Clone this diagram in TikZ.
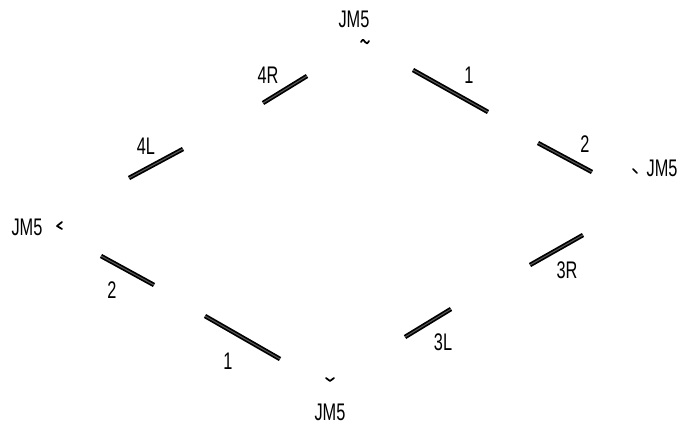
\documentclass[tikz,border=0pt]{standalone}
\usepackage{fontspec}
\setmainfont{Liberation Sans}[FakeStretch=0.68]
\usetikzlibrary{positioning}

\tikzset{
  rail/.style={line width=1.3pt, draw=black, double=black!65, double distance=0.8pt, line cap=butt},
  tag/.style={inner sep=0pt, font=\fontsize{18}{20}\selectfont},
  tick/.style={line width=1.3pt, line cap=round, line join=round}
}

\begin{document}
\begin{tikzpicture}[x=0.75pt, y=-0.75pt]
    \useasboundingbox (0,0) rectangle (689,426);

    % Upper left side
    \draw[rail] (129,178) -- (183,149); % 4L
    \draw[rail] (263,103) -- (307,76);  % 4R

    % Upper right side
    \draw[rail] (413,70) -- (488,112);  % 1
    \draw[rail] (538,143) -- (592,172); % 2

    % Lower right side
    \draw[rail] (530,265) -- (583,235); % 3R
    \draw[rail] (405,337) -- (451,309); % 3L

    % Lower left side
    \draw[rail] (205,316) -- (280,359); % 1
    \draw[rail] (101,256) -- (154,285); % 2

    % Labels
    \node[tag] (jmtop) at (354,19) {JM5};
    \node[tag] (l4r) at (268,75) {4R};
    \node[tag] (l1top) at (469,75) {1};
    \node[tag] (l4l) at (146,146) {4L};
    \node[tag] (l2right) at (585,144) {2};
    \node[tag] (jmright) at (662,168) {JM5};
    \node[tag] (jmleft) at (27,227) {JM5};
    \node[tag] (l3r) at (567,270) {3R};
    \node[tag] (l2left) at (112,290) {2};
    \node[tag] (l3l) at (443,342) {3L};
    \node[tag] (l1bot) at (228,361) {1};
    \node[tag] (jmbot) at (330,412) {JM5};

    % Small marks next to JM5
    \draw[tick] (361,42) .. controls (363,39) .. (365,42) .. controls (367,44) .. (369,41); % top
    \draw[tick] (326,378) -- (330,381) -- (334,378); % bottom
    \draw[tick] (62,222) -- (57,226) -- (62,229); % left
    \draw[tick] (633,169) -- (637,173); % right
\end{tikzpicture}
\end{document}
